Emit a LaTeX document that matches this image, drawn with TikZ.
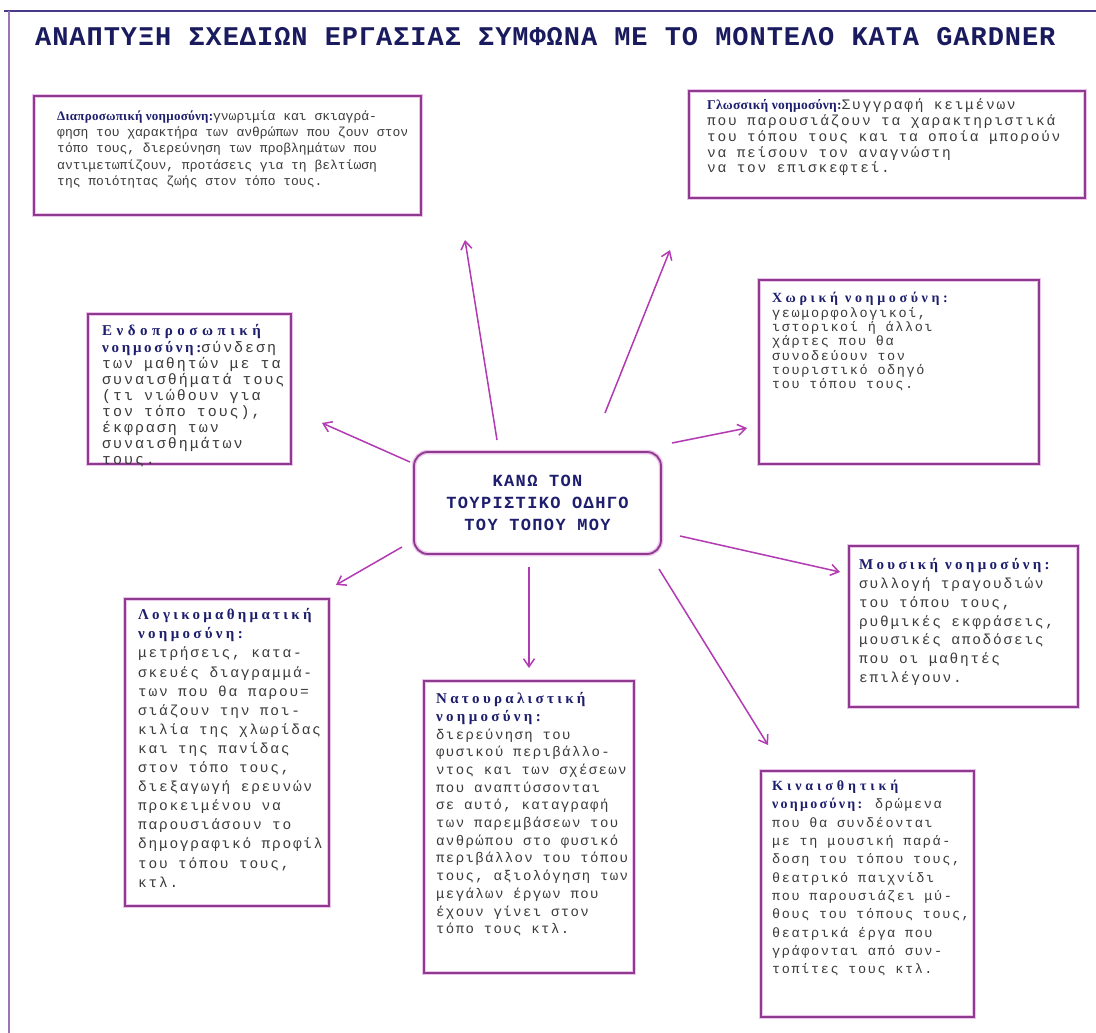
\documentclass[tikz,border=0pt]{standalone}
\usepackage{fontspec}
\usetikzlibrary{arrows.meta}
\newfontfamily\bodyf{Liberation Mono}
\newfontfamily\hdrf{Liberation Serif}
\newfontfamily\ttlf{Liberation Mono}
\definecolor{hdrc}{HTML}{1E1E6E}
\definecolor{bodyc}{HTML}{3A3A3A}
\definecolor{boxc}{HTML}{8E3A8E}
\definecolor{glowc}{HTML}{EBC3EB}
\definecolor{arrc}{HTML}{B23AB2}
\definecolor{framec}{HTML}{4A3A8A}
\definecolor{framel}{HTML}{9C72B8}
\definecolor{ttlc}{HTML}{1A1A5E}
\newcommand\bodyset[3]{\bodyf\fontsize{#1}{#2}\selectfont\addfontfeature{LetterSpace=#3}\color{bodyc}}
\newcommand\hd[3]{{\hdrf\bfseries\fontsize{#1}{16}\selectfont\addfontfeature{LetterSpace=#2}\color{hdrc}#3}}
\begin{document}
\begin{tikzpicture}[x=1pt,y=-1pt,
  box/.style={draw=boxc, line width=1.8pt, preaction={draw=glowc, line width=4.5pt}, inner sep=0pt, anchor=north west},
  txt/.style={anchor=north west, inner sep=0pt, align=left},
  arr/.style={draw=arrc, line width=1.5pt, -{Straight Barb[length=8pt,width=11pt]}}]
\useasboundingbox (0,0) rectangle (1096,1033);
\fill[white] (0,0) rectangle (1096,1033);
% frame
\draw[framec, line width=2pt] (4,11) -- (1096,11);
\draw[framel, line width=1.5pt] (9,11) -- (9,1033);
% title
\node[anchor=base west, inner sep=0pt, font={\ttlf\bfseries\fontsize{27}{30}\selectfont\addfontfeature{LetterSpace=3.5}}, text=ttlc] (title) at (35,46)
 {ΑΝΑΠΤΥΞΗ ΣΧΕΔΙΩΝ ΕΡΓΑΣΙΑΣ ΣΥΜΦΩΝΑ ΜΕ ΤΟ ΜΟΝΤΕΛΟ ΚΑΤΑ GARDNER};
% boxes
\node[box, minimum width=387pt, minimum height=119pt] (b1) at (33,95) {};
\node[box, minimum width=396pt, minimum height=107pt] (b2) at (688,90) {};
\node[box, minimum width=203pt, minimum height=150pt] (b3) at (87,313) {};
\node[box, minimum width=280pt, minimum height=184pt] (b4) at (758,279) {};
\node[box, minimum width=229pt, minimum height=161pt] (b5) at (848,545) {};
\node[box, minimum width=204pt, minimum height=307pt] (b6) at (124,598) {};
\node[box, minimum width=210pt, minimum height=292pt] (b7) at (423,680) {};
\node[box, minimum width=213pt, minimum height=246pt] (b8) at (760,770) {};
% centre
\node[draw=boxc, line width=1.8pt, preaction={draw=glowc, line width=4.5pt}, rounded corners=14pt,
  minimum width=247pt, minimum height=102pt, align=center, text=hdrc,
  font={\ttlf\bfseries\fontsize{17}{22}\selectfont\addfontfeature{LetterSpace=8}}] (c) at (537.5,503)
 {ΚΑΝΩ ΤΟΝ\\ΤΟΥΡΙΣΤΙΚΟ ΟΔΗΓΟ\\ΤΟΥ ΤΟΠΟΥ ΜΟΥ};
% texts
\node[txt, font={\bodyset{13}{16.2}{0}}] (t1) at (57,108.9)
 {\strut\hd{13}{2}{Διαπροσωπική νοημοσύνη:}γνωριμία και σκιαγρά-\\
  φηση του χαρακτήρα των ανθρώπων που ζουν στον\\
  τόπο τους, διερεύνηση των προβλημάτων που\\
  αντιμετωπίζουν, προτάσεις για τη βελτίωση\\
  της ποιότητας ζωής στον τόπο τους.};
\node[txt, font={\bodyset{14.5}{15.8}{12}}] (t2) at (707,98.5)
 {\strut\hd{13.5}{2}{Γλωσσική νοημοσύνη:}Συγγραφή κειμένων\\
  που παρουσιάζουν τα χαρακτηριστικά\\
  του τόπου τους και τα οποία μπορούν\\
  να πείσουν τον αναγνώστη\\
  να τον επισκεφτεί.};
\node[txt, font={\bodyset{15}{16.1}{13}}] (t3) at (102,324.5)
 {\strut\hd{15}{30}{Ενδοπροσωπική}\\
  \hd{15}{18}{νοημοσύνη:}σύνδεση\\
  των μαθητών με τα\\
  συναισθήματά τους\\
  (τι νιώθουν για\\
  τον τόπο τους),\\
  έκφραση των\\
  συναισθημάτων\\
  τους.};
\node[txt, font={\bodyset{13.5}{14.2}{12}}] (t4) at (772,291.5)
 {\strut\hd{14}{26}{Χωρική νοημοσύνη:}\\
  γεωμορφολογικοί,\\
  ιστορικοί ή άλλοι\\
  χάρτες που θα\\
  συνοδεύουν τον\\
  τουριστικό οδηγό\\
  του τόπου τους.};
\node[txt, font={\bodyset{14.5}{18.8}{12}}] (t5) at (859,556.4)
 {\strut\hd{15}{22}{Μουσική νοημοσύνη:}\\
  συλλογή τραγουδιών\\
  του τόπου τους,\\
  ρυθμικές εκφράσεις,\\
  μουσικές αποδόσεις\\
  που οι μαθητές\\
  επιλέγουν.};
\node[txt, font={\bodyset{14.5}{19.1}{12}}] (t6) at (138,606.2)
 {\strut\hd{15}{22}{Λογικομαθηματική}\\
  \hd{15}{22}{νοημοσύνη:}\\
  μετρήσεις, κατα-\\
  σκευές διαγραμμά-\\
  των που θα παρου=\\
  σιάζουν την ποι-\\
  κιλία της χλωρίδας\\
  και της πανίδας\\
  στον τόπο τους,\\
  διεξαγωγή ερευνών\\
  προκειμένου να\\
  παρουσιάσουν το\\
  δημογραφικό προφίλ\\
  του τόπου τους,\\
  κτλ.};
\node[txt, font={\bodyset{14}{17.7}{10}}] (t7) at (436,691.1)
 {\strut\hd{15}{22}{Νατουραλιστική}\\
  \hd{15}{22}{νοημοσύνη:}\\
  διερεύνηση του\\
  φυσικού περιβάλλο-\\
  ντος και των σχέσεων\\
  που αναπτύσσονται\\
  σε αυτό, καταγραφή\\
  των παρεμβάσεων του\\
  ανθρώπου στο φυσικό\\
  περιβάλλον του τόπου\\
  τους, αξιολόγηση των\\
  μεγάλων έργων που\\
  έχουν γίνει στον\\
  τόπο τους κτλ.};
\node[txt, font={\bodyset{13.5}{18.3}{12}}] (t8) at (772,777.6)
 {\strut\hd{14}{28}{Κιναισθητική}\\
  \hd{14}{16}{νοημοσύνη:} δρώμενα\\
  που θα συνδέονται\\
  με τη μουσική παρά-\\
  δοση του τόπου τους,\\
  θεατρικό παιχνίδι\\
  που παρουσιάζει μύ-\\
  θους του τόπους τους,\\
  θεατρικά έργα που\\
  γράφονται από συν-\\
  τοπίτες τους κτλ.};
% arrows
\coordinate (s1) at (497,440); \coordinate (e1) at (465,240);
\coordinate (s2) at (605,413); \coordinate (e2) at (670,250);
\coordinate (s3) at (672,443); \coordinate (e3) at (747,428);
\coordinate (s4) at (410,462); \coordinate (e4) at (322,423);
\coordinate (s5) at (402,547); \coordinate (e5) at (336,585);
\coordinate (s6) at (529,567); \coordinate (e6) at (529,668);
\coordinate (s7) at (680,536); \coordinate (e7) at (840,572);
\coordinate (s8) at (659,569); \coordinate (e8) at (768,745);
\foreach \i in {1,...,8} \draw[arr] (s\i) -- (e\i);
\end{tikzpicture}
\end{document}
